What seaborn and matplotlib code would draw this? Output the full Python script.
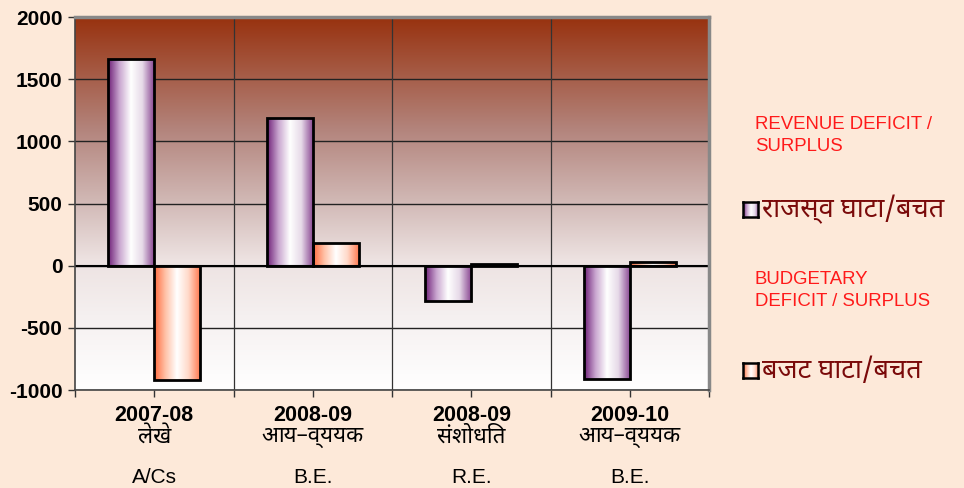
import numpy as np
import pandas as pd
import seaborn as sns
import matplotlib.pyplot as plt
from matplotlib.colors import LinearSegmentedColormap

# values
years = ['2007-08', '2008-09', '2008-09', '2009-10']
nepali_labels = ['लेखे', 'आय–व्ययक', 'संशोधित', 'आय–व्ययक']
english_labels = ['A/Cs', 'B.E.', 'R.E.', 'B.E.']
revenue = [1660, 1185, -285, -910]
budget = [-921, 185, 12, 28]
series_names = ['राजस्व घाटा/बचत', 'बजट घाटा/बचत']
series_notes = ['REVENUE DEFICIT /\nSURPLUS', 'BUDGETARY\nDEFICIT / SURPLUS']

sns.set_theme(style='white')
plt.rcParams['font.family'] = ['Liberation Sans', 'DejaVu Sans']
plt.rcParams['text.color'] = 'black'
plt.rcParams['xtick.color'] = 'black'
plt.rcParams['ytick.color'] = 'black'
DEVA = ['Noto Sans Devanagari', 'DejaVu Sans']

df = pd.DataFrame({
    'cat': list(range(4)) * 2,
    'value': revenue + budget,
    'series': [series_names[0]] * 4 + [series_names[1]] * 4,
})

fig = plt.figure(figsize=(9.64, 4.88), dpi=100, facecolor='#FDE9D9')
ax = fig.add_axes([0.0778, 0.2008, 0.6577, 0.7642])

sns.barplot(data=df, x='cat', y='value', hue='series', ax=ax, width=0.58,
            dodge=True, legend=False, edgecolor='black', linewidth=2)

ax.set_ylim(-1000, 2000)
ax.set_xlim(-0.5, 3.5)

# plot background gradient (white at the bottom, brown at the top)
bg = LinearSegmentedColormap.from_list('bg', [(0, '#FFFFFF'), (0.2, '#F5F0F0'),
                                              (0.35, '#EDE2E1'), (0.5, '#D2BAB7'),
                                              (0.7, '#B3847C'), (1.0, '#98320F')])
ax.imshow(np.linspace(0, 1, 256).reshape(-1, 1), cmap=bg, aspect='auto',
          extent=(-0.5, 3.5, -1000, 2000), origin='lower', zorder=0)

purple = LinearSegmentedColormap.from_list('p', ['#6E1F78', '#C9A6CF', '#FFFFFF', '#E6D9E8', '#8B4A94'])
orange = LinearSegmentedColormap.from_list('o', ['#FF6A3D', '#FFC2A8', '#FFFFFF', '#FFD9C9', '#FF7B52'])
grad = np.linspace(0, 1, 256).reshape(1, -1)
for i, p in enumerate(ax.patches):
    cm = purple if i < 4 else orange
    x0, y0 = p.get_x(), p.get_y()
    w, h = p.get_width(), p.get_height()
    ax.imshow(grad, cmap=cm, aspect='auto',
              extent=(x0, x0 + w, min(y0, y0 + h), max(y0, y0 + h)), zorder=2)
    p.set_facecolor('none')
    p.set_zorder(3)

for y in range(-1000, 2001, 500):
    ax.axhline(y, color='#222222', lw=1, zorder=1)
for x in [0.5, 1.5, 2.5]:
    ax.axvline(x, color='#333333', lw=0.9, zorder=1)
ax.axhline(0, color='black', lw=1.5, zorder=2.5)

for s in ['top', 'right']:
    ax.spines[s].set_color('#888888')
    ax.spines[s].set_linewidth(2.5)
for s in ['left', 'bottom']:
    ax.spines[s].set_color('#444444')
    ax.spines[s].set_linewidth(1.2)

ax.set_yticks(range(-1000, 2001, 500))
ax.set_yticklabels([str(v) for v in range(-1000, 2001, 500)], fontsize=15, fontweight='bold')
ax.set_xticks([-0.5, 0, 0.5, 1, 1.5, 2, 2.5, 3, 3.5])
ax.set_xticklabels([])
ax.tick_params(axis='both', length=5, width=1, color='#333333', direction='out',
               left=True, bottom=True, pad=4)
ax.set_xlabel('')
ax.set_ylabel('')

# category labels: year, nepali, english
for i in range(4):
    ax.annotate(years[i], (i, 0), xycoords=('data', 'axes fraction'), xytext=(0, -18),
                textcoords='offset points', ha='center', va='center',
                fontsize=15.5, fontweight='bold')
    ax.annotate(nepali_labels[i], (i, 0), xycoords=('data', 'axes fraction'), xytext=(0, -34),
                textcoords='offset points', ha='center', va='center',
                fontsize=16, family=DEVA)
    ax.annotate(english_labels[i], (i, 0), xycoords=('data', 'axes fraction'), xytext=(0, -63),
                textcoords='offset points', ha='center', va='center', fontsize=15)

# legend on the right
note_y = [116, 271]
entry_y = [210, 371]
swatch = [purple, orange]
for k in range(2):
    fig.text(755 / 964, 1 - note_y[k] / 488, series_notes[k], color='#FF1A1A',
             fontsize=13.4, va='top', ha='left', linespacing=1.4)
    sax = fig.add_axes([743 / 964, 1 - (entry_y[k] + 7) / 488, 15 / 964, 15 / 488])
    sax.imshow(grad, cmap=swatch[k], aspect='auto')
    sax.set_xticks([])
    sax.set_yticks([])
    for s in sax.spines.values():
        s.set_color('black')
        s.set_linewidth(1.8)
    fig.text(762 / 964, 1 - entry_y[k] / 488, series_names[k], color='#7A0A0A',
             fontsize=19.5, fontweight='bold', va='center', ha='left', family=DEVA)

fig.savefig('out.png', dpi=100, facecolor=fig.get_facecolor())
